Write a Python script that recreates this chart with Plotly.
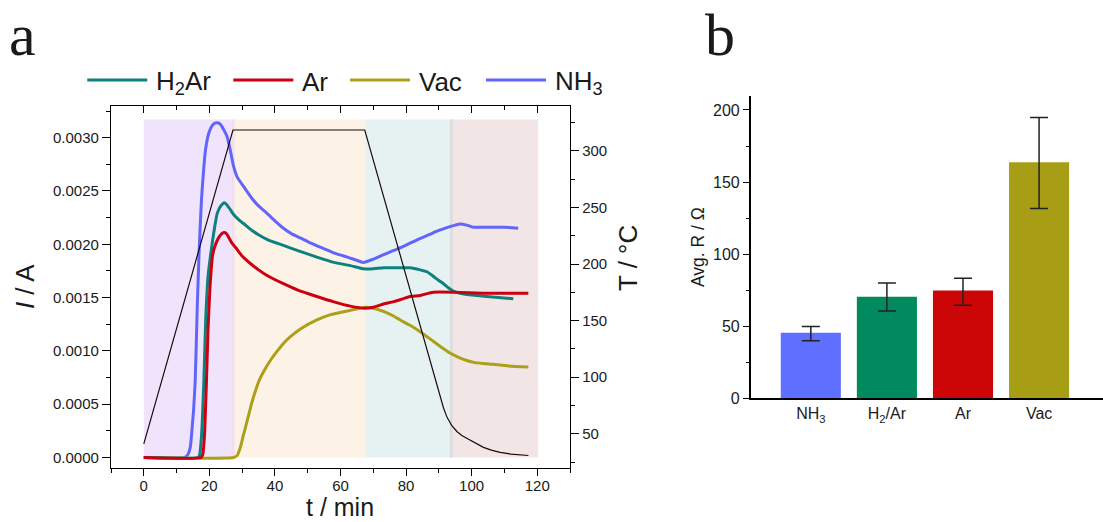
import plotly.graph_objects as go

W, H = 1103, 522
FONT = "Liberation Sans, Arial, sans-serif"

# ---------------- panel a data ----------------
t_nh3 = [0, 12.5, 13.5, 14.2, 14.8, 15.2, 15.7, 16.3, 16.9, 17.6, 18.2, 18.8, 19.8, 21, 22.1, 23.2,
         24.3, 25.4, 26.4, 27.4, 28.5, 30.5, 33, 35, 37.6, 40, 42.6, 45, 47.7, 51, 54, 57.9, 61, 64,
         67, 70, 73, 76, 78.5, 81.2, 84, 87, 90, 93.9, 95, 96.5, 98.5, 100.5, 105, 110, 114.2]
i_nh3 = [0, 0, 0.00003, 0.0001, 0.0003, 0.00045, 0.00073, 0.0014, 0.00195, 0.00242, 0.00268,
         0.00288, 0.00304, 0.00312, 0.00314, 0.00313, 0.00308, 0.00301, 0.00288, 0.00273, 0.00263,
         0.00254, 0.00243, 0.00236, 0.00229, 0.00222, 0.00215, 0.0021, 0.00206, 0.00201, 0.00197,
         0.00192, 0.00189, 0.00186, 0.00183, 0.00186, 0.0019, 0.00194, 0.00197, 0.00201, 0.00205,
         0.00209, 0.00213, 0.00217, 0.00218, 0.00219, 0.00218, 0.00216, 0.00216, 0.00216, 0.00215]

t_h2ar = [0, 16.5, 17, 17.6, 18.3, 18.9, 19.6, 20.6, 21.3, 22.4, 23.5, 24.6, 25.6, 26.5, 27.4, 29,
          31, 33, 35, 38, 42.6, 47, 52.8, 58, 63, 67, 70, 73.1, 78.2, 81.2, 84.3, 86.5, 88.3, 90,
          91.4, 93, 94.4, 96.5, 98.5, 104.6, 112.7]
i_h2ar = [0, 0, 0.00002, 0.0002, 0.0007, 0.0013, 0.0017, 0.00195, 0.0021, 0.00229, 0.00236, 0.00239,
          0.00236, 0.00232, 0.00228, 0.00223, 0.00218, 0.00213, 0.00209, 0.00204, 0.00199, 0.00194,
          0.00188, 0.00183, 0.0018, 0.00177, 0.00177, 0.00178, 0.00178, 0.00178, 0.00176, 0.00174,
          0.0017, 0.00166, 0.00163, 0.00159, 0.00156, 0.00154, 0.00153, 0.00151, 0.00149]

t_ar = [0, 17.5, 18, 18.5, 19.1, 19.6, 20.2, 21, 21.8, 22.8, 23.8, 24.4, 25.2, 26, 26.9, 28, 30,
        32.5, 35, 38, 42.6, 47, 52.8, 58, 63, 67.4, 70, 73.1, 76, 78.2, 81.2, 84.3, 88.3, 94.4,
        103.6, 110, 117.3]
i_ar = [0, 0, 0.00003, 0.0002, 0.0007, 0.0012, 0.0016, 0.0019, 0.00199, 0.00206, 0.0021, 0.00211,
        0.0021, 0.00206, 0.00201, 0.00197, 0.00189, 0.00182, 0.00176, 0.0017, 0.00163, 0.00157,
        0.00151, 0.00146, 0.00142, 0.0014, 0.00141, 0.00144, 0.00146, 0.00148, 0.00151, 0.00152,
        0.00155, 0.00155, 0.00154, 0.00154, 0.00154]

t_vac = [0, 27.4, 28.5, 29.5, 30.3, 31, 32, 33, 34, 35.3, 37, 38.6, 40.5, 42.6, 45, 48, 52.8, 57,
         63, 67.5, 70, 73.1, 76, 78.2, 81.2, 84.3, 88.3, 91, 93.4, 96, 98.5, 101, 104.6, 110.7, 117.3]
i_vac = [0, 0, 0.00002, 0.0001, 0.0002, 0.00028, 0.0004, 0.00052, 0.00062, 0.00073, 0.00083,
         0.00091, 0.00099, 0.00107, 0.00114, 0.00121, 0.00129, 0.00134, 0.00138, 0.00141, 0.0014,
         0.00137, 0.00133, 0.00129, 0.00124, 0.00118, 0.00109, 0.00103, 0.00098, 0.00094, 0.00091,
         0.00089, 0.00088, 0.00086, 0.00085]

t_temp = [0, 27.2, 67.4, 78.2, 88.1, 89.2, 90.2, 91.4, 92.5, 93.9, 95.5, 97, 98.5, 100, 101.5,
          103.6, 106, 108.7, 112, 117.3]
T_temp = [41, 318.5, 318.5, 207.8, 106.5, 95, 84.5, 73, 64.5, 57.5, 52, 48.5, 46, 43.5, 41,
          38, 35.5, 33.5, 32, 30.8]

phase_start = [0, 26.8, 67.5, 93.4]
phase_end = [27.7, 67.5, 94.2, 120.3]
phase_top = 0.00317

series_names = ["H<sub>2</sub>Ar", "Ar", "Vac", "NH<sub>3</sub>"]
line_colors = ["#0C827D", "#CC0010", "#ABA017", "#6165FA"]

# ---------------- panel b data ----------------
bar_cats = ["NH<sub>3</sub>", "H<sub>2</sub>/Ar", "Ar", "Vac"]
bar_vals = [45.5, 70.5, 74.7, 163.7]
err_up = [4.3, 9.4, 8.6, 31.0]
err_down = [5.5, 9.9, 10.2, 32.1]
bar_colors = ["#5F6FFF", "#008A5E", "#CC0606", "#A89E16"]

# ---------------- helpers ----------------
def px(x):
    return x / W

def py(y):
    return 1 - y / H

fig = go.Figure()

series = [(t_h2ar, i_h2ar), (t_ar, i_ar), (t_vac, i_vac), (t_nh3, i_nh3)]
order = [3, 2, 0, 1]
for k in order:
    tx, iy = series[k]
    fig.add_trace(go.Scatter(x=tx, y=iy, mode="lines", name=series_names[k],
                             line=dict(color=line_colors[k], width=3, shape="spline", smoothing=0.5),
                             showlegend=False, xaxis="x", yaxis="y"))

fig.add_trace(go.Scatter(x=t_temp, y=T_temp, mode="lines", name="T",
                         line=dict(color="#1a0a0a", width=1.2),
                         showlegend=False, xaxis="x", yaxis="y2"))

# dummy trace to carry the mirrored top axis
fig.add_trace(go.Scatter(x=[0], y=[None], mode="lines", showlegend=False,
                         hoverinfo="skip", xaxis="x3", yaxis="y"))

fig.add_trace(go.Bar(x=bar_cats, y=bar_vals, marker=dict(color=bar_colors, line=dict(width=0)),
                     width=0.79, showlegend=False,
                     error_y=dict(type="data", symmetric=False, array=err_up, arrayminus=err_down,
                                  color="#222222", thickness=1.5, width=9),
                     xaxis="x4", yaxis="y4"))

# phase background rectangles
phase_colors = ["#F0E4FD", "#FDF2E6", "#E6F2F2", "#F2E5E5"]
shapes = []
for s, e, c in zip(phase_start, phase_end, phase_colors):
    shapes.append(dict(type="rect", xref="x", yref="y", x0=s, x1=e, y0=0, y1=phase_top,
                       fillcolor=c, line=dict(width=0), layer="below"))
shapes.append(dict(type="rect", xref="x", yref="y", x0=phase_start[1], x1=phase_end[0], y0=0,
                   y1=phase_top, fillcolor="#F3DDEE", line=dict(width=0), layer="below"))
shapes.append(dict(type="rect", xref="x", yref="y", x0=phase_start[3], x1=phase_end[2], y0=0,
                   y1=phase_top, fillcolor="#DCDCDE", line=dict(width=0), layer="below"))

# manual legend (lines + text)
leg_line_x0 = [87.3, 233.3, 350, 486]
leg_y = 80
annotations = []
for k in range(4):
    shapes.append(dict(type="line", xref="paper", yref="paper",
                       x0=px(leg_line_x0[k]), x1=px(leg_line_x0[k] + 60),
                       y0=py(leg_y), y1=py(leg_y), line=dict(color=line_colors[k], width=3)))
    annotations.append(dict(text=series_names[k], xref="paper", yref="paper",
                            x=px(leg_line_x0[k] + 67), y=py(leg_y + 2), xanchor="left",
                            yanchor="middle", showarrow=False,
                            font=dict(family=FONT, size=26, color="#1a1a1a")))

# panel letters
annotations.append(dict(text="a", xref="paper", yref="paper", x=px(7), y=1.0,
                        xanchor="left", yanchor="top", showarrow=False,
                        font=dict(family="Liberation Serif, serif", size=60, color="#1a1a1a")))
annotations.append(dict(text="b", xref="paper", yref="paper", x=px(703), y=1.0,
                        xanchor="left", yanchor="top", showarrow=False,
                        font=dict(family="Liberation Serif, serif", size=60, color="#1a1a1a")))

# axis titles of panel a
annotations.append(dict(text="T / °C", xref="paper", yref="paper", x=px(628), y=py(258),
                        xanchor="center", yanchor="middle", textangle=-90, showarrow=False,
                        font=dict(family=FONT, size=26, color="#1a1a1a")))
annotations.append(dict(text="t / min", xref="paper", yref="paper", x=px(340), y=0.0,
                        xanchor="center", yanchor="bottom", showarrow=False, borderpad=0,
                        font=dict(family=FONT, size=25, color="#1a1a1a")))

AX = dict(showline=True, linecolor="black", linewidth=1.3, showgrid=False, zeroline=False,
          automargin=False, tickcolor="black", tickwidth=1.3,
          tickfont=dict(family=FONT, size=15, color="#1a1a1a"))

xa_dom = [px(111), px(570)]
ya_dom = [py(467.7), py(105.7)]

fig.update_layout(
    template="none",
    width=W, height=H, margin=dict(l=0, r=0, t=0, b=0, autoexpand=False),
    paper_bgcolor="white", plot_bgcolor="white", showlegend=False,
    font=dict(family=FONT, color="#1a1a1a"),
    xaxis=dict(AX, domain=xa_dom, range=[-10, 130], anchor="y", ticks="outside", ticklen=7,
               dtick=20, tick0=0, ticklabelstandoff=-3,
               minor=dict(dtick=10, tick0=0, ticks="outside", ticklen=4, tickcolor="black", tickwidth=1.3)),
    xaxis3=dict(AX, domain=xa_dom, range=[-10, 130], overlaying="x", side="top", anchor="y",
                ticks="inside", ticklen=7, dtick=20, tick0=0, showticklabels=False,
                minor=dict(dtick=10, tick0=0, ticks="inside", ticklen=4, tickcolor="black", tickwidth=1.3)),
    yaxis=dict(AX, domain=ya_dom, range=[-0.0000957, 0.0033], anchor="x", ticks="outside",
               ticklen=8, dtick=0.0005, tick0=0, tickformat=".4f",
               minor=dict(dtick=0.00025, tick0=0, ticks="outside", ticklen=4, tickcolor="black", tickwidth=1.3),
               title=dict(text="<i>I</i> / A", font=dict(family=FONT, size=26), standoff=10)),
    yaxis2=dict(AX, domain=ya_dom, range=[20, 340], overlaying="y", side="right", anchor="x",
                ticks="outside", ticklen=8, dtick=50, tick0=0,
                minor=dict(dtick=25, tick0=0, ticks="outside", ticklen=4, tickcolor="black", tickwidth=1.3)),
    xaxis4=dict(AX, domain=[px(750.7), 1.0], range=[-0.79, 3.84], anchor="y4", ticks="",
                tickfont=dict(family=FONT, size=16, color="#1a1a1a"), linewidth=1.5),
    yaxis4=dict(AX, domain=[py(398.3), py(96)], range=[0, 209.7], anchor="x4", ticks="outside",
                ticklen=6, dtick=50, tick0=0, linewidth=1.5,
                tickfont=dict(family=FONT, size=16, color="#1a1a1a"),
                minor=dict(dtick=25, tick0=0, ticks="outside", ticklen=3, tickcolor="black", tickwidth=1.3),
                title=dict(text="Avg. R / Ω", font=dict(family=FONT, size=17.5), standoff=4)),
    shapes=shapes,
    annotations=annotations,
)

fig.write_html("out.html")
